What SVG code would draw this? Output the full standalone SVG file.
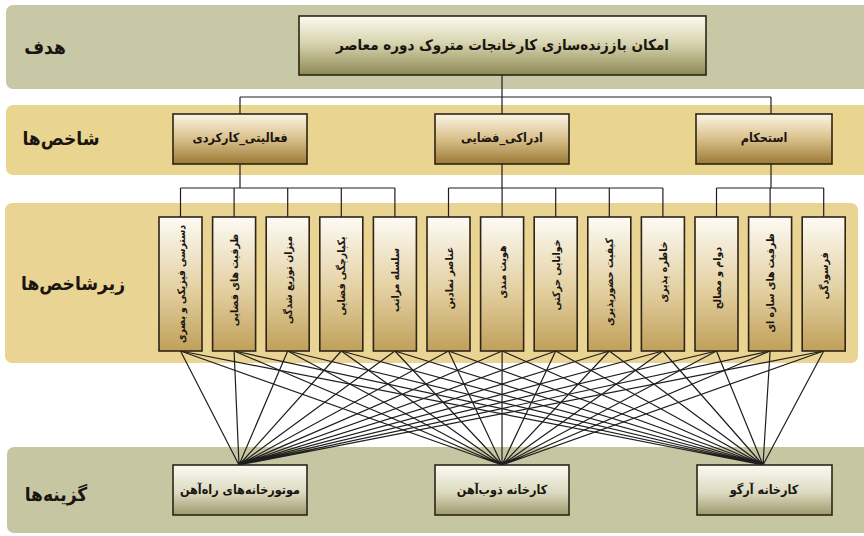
<svg xmlns="http://www.w3.org/2000/svg" width="864" height="536" viewBox="0 0 864 536">
<style>
text{font-family:"DejaVu Sans Condensed","DejaVu Sans",sans-serif;font-weight:bold;fill:#1a1510;text-anchor:middle;dominant-baseline:central}
.lbl{font-size:19px}
.top{font-size:15px}
.l2{font-size:12.5px}
.sub{font-size:10.5px}
.opt{font-size:12.5px}
.box{stroke:#2e2418;stroke-width:1.6}
.ln{stroke:#1e1e1e;stroke-width:1.2;fill:none}
</style>
<defs>
<linearGradient id="gOlive" x1="0" y1="0" x2="0" y2="1">
<stop offset="0" stop-color="#fbfaf0"/><stop offset="0.45" stop-color="#d8d5b0"/><stop offset="1" stop-color="#8f8955"/>
</linearGradient>
<linearGradient id="gGold" x1="0" y1="0" x2="0" y2="1">
<stop offset="0" stop-color="#fbf5e6"/><stop offset="0.5" stop-color="#d9c08a"/><stop offset="1" stop-color="#9c7a36"/>
</linearGradient>
<linearGradient id="gSub" x1="0" y1="0" x2="0" y2="1">
<stop offset="0" stop-color="#fdfbf5"/><stop offset="0.55" stop-color="#e3cfa0"/><stop offset="1" stop-color="#c0a05a"/>
</linearGradient>
<linearGradient id="gOpt" x1="0" y1="0" x2="0" y2="1">
<stop offset="0" stop-color="#fafaf2"/><stop offset="0.55" stop-color="#dcdac0"/><stop offset="1" stop-color="#9e9a6c"/>
</linearGradient>
</defs>
<rect width="864" height="536" fill="#ffffff"/>
<g id="bands">
<rect x="6" y="5" width="880" height="84" rx="7" fill="#c9c8a6"/>
<rect x="6" y="105" width="880" height="70" rx="7" fill="#ead590"/>
<rect x="5" y="203" width="853" height="160" rx="7" fill="#e9d493"/>
<rect x="7" y="447" width="880" height="86" rx="7" fill="#c7c6a3"/>
</g>
<g id="band-labels">
<text class="lbl" x="45" y="47">هدف</text>
<text class="lbl" x="61" y="138">شاخص‌ها</text>
<text class="lbl" x="73" y="283">زیرشاخص‌ها</text>
<text class="lbl" x="56" y="494">گزینه‌ها</text>
</g>
<g id="connectors">
<path class="ln" d="M502 75V97M240 97H771M240 97V114M502 97V114M771 97V114"/>
<path class="ln" d="M240 164V188M180.5 188H394.9M180.5 188V217M234.1 188V217M287.7 188V217M341.3 188V217M394.9 188V217"/>
<path class="ln" d="M502 164V188M448.5 188H662.9M448.5 188V217M502.1 188V217M555.7 188V217M609.3 188V217M662.9 188V217"/>
<path class="ln" d="M771 164V188M716.5 188H823.7M716.5 188V217M770.1 188V217M823.7 188V217"/>
<path class="ln" d="M180.5 351L239 465M234.1 351L239 465M287.7 351L239 465M341.3 351L239 465M394.9 351L239 465M448.5 351L239 465M502.1 351L239 465M555.7 351L239 465M609.3 351L239 465M662.9 351L239 465M716.5 351L239 465M770.1 351L239 465M823.7 351L239 465"/>
<path class="ln" d="M180.5 351L502 465M234.1 351L502 465M287.7 351L502 465M341.3 351L502 465M394.9 351L502 465M448.5 351L502 465M502.1 351L502 465M555.7 351L502 465M609.3 351L502 465M662.9 351L502 465M716.5 351L502 465M770.1 351L502 465M823.7 351L502 465"/>
<path class="ln" d="M180.5 351L763 465M234.1 351L763 465M287.7 351L763 465M341.3 351L763 465M394.9 351L763 465M448.5 351L763 465M502.1 351L763 465M555.7 351L763 465M609.3 351L763 465M662.9 351L763 465M716.5 351L763 465M770.1 351L763 465M823.7 351L763 465"/>
</g>
<g id="goal">
<rect class="box" x="299" y="16" width="407" height="59" fill="url(#gOlive)"/>
<text class="top" x="502.5" y="45">امکان باززنده‌سازی کارخانجات متروک دوره معاصر</text>
</g>
<g id="crit-1">
<rect class="box" x="173" y="114" width="134" height="50" fill="url(#gGold)"/>
<text class="l2" x="240" y="137">فعالیتی_کارکردی</text>
</g>
<g id="crit-2">
<rect class="box" x="435" y="114" width="134" height="50" fill="url(#gGold)"/>
<text class="l2" x="502" y="137">ادراکی_فضایی</text>
</g>
<g id="crit-3">
<rect class="box" x="696" y="114" width="136" height="50" fill="url(#gGold)"/>
<text class="l2" x="764" y="137">استحکام</text>
</g>
<g id="sub-1"><rect class="box" x="159" y="217" width="43" height="134" fill="url(#gSub)"/><text class="sub" transform="translate(180.5 284) rotate(-90)" textLength="118" lengthAdjust="spacingAndGlyphs">دسترسی فیزیکی و بصری</text></g>
<g id="sub-2"><rect class="box" x="212.6" y="217" width="43" height="134" fill="url(#gSub)"/><text class="sub" transform="translate(234.1 280) rotate(-90)">ظرفیت های فضایی</text></g>
<g id="sub-3"><rect class="box" x="266.2" y="217" width="43" height="134" fill="url(#gSub)"/><text class="sub" transform="translate(287.7 280) rotate(-90)">میزان توزیع شدگی</text></g>
<g id="sub-4"><rect class="box" x="319.8" y="217" width="43" height="134" fill="url(#gSub)"/><text class="sub" transform="translate(341.3 276) rotate(-90)">یکپارچگی فضایی</text></g>
<g id="sub-5"><rect class="box" x="373.4" y="217" width="43" height="134" fill="url(#gSub)"/><text class="sub" transform="translate(394.9 280) rotate(-90)">سلسله مراتب</text></g>
<g id="sub-6"><rect class="box" x="427" y="217" width="43" height="134" fill="url(#gSub)"/><text class="sub" transform="translate(448.5 278) rotate(-90)">عناصر نمادین</text></g>
<g id="sub-7"><rect class="box" x="480.6" y="217" width="43" height="134" fill="url(#gSub)"/><text class="sub" transform="translate(502.1 272) rotate(-90)">هویت مندی</text></g>
<g id="sub-8"><rect class="box" x="534.2" y="217" width="43" height="134" fill="url(#gSub)"/><text class="sub" transform="translate(555.7 275) rotate(-90)">خوانایی حرکتی</text></g>
<g id="sub-9"><rect class="box" x="587.8" y="217" width="43" height="134" fill="url(#gSub)"/><text class="sub" transform="translate(609.3 282) rotate(-90)">کیفیت حضورپذیری</text></g>
<g id="sub-10"><rect class="box" x="641.4" y="217" width="43" height="134" fill="url(#gSub)"/><text class="sub" transform="translate(662.9 272) rotate(-90)">خاطره پذیری</text></g>
<g id="sub-11"><rect class="box" x="695" y="217" width="43" height="134" fill="url(#gSub)"/><text class="sub" transform="translate(716.5 278) rotate(-90)">دوام و مصالح</text></g>
<g id="sub-12"><rect class="box" x="748.6" y="217" width="43" height="134" fill="url(#gSub)"/><text class="sub" transform="translate(770.1 283) rotate(-90)">ظرفیت های سازه ای</text></g>
<g id="sub-13"><rect class="box" x="802.2" y="217" width="43" height="134" fill="url(#gSub)"/><text class="sub" transform="translate(823.7 276) rotate(-90)">فرسودگی</text></g>
<g id="opt-1">
<rect class="box" x="173" y="465" width="134" height="50" fill="url(#gOpt)"/>
<text class="opt" x="240" y="489">موتورخانه‌های راه‌آهن</text>
</g>
<g id="opt-2">
<rect class="box" x="435" y="465" width="134" height="50" fill="url(#gOpt)"/>
<text class="opt" x="502" y="489">کارخانه ذوب‌آهن</text>
</g>
<g id="opt-3">
<rect class="box" x="697" y="465" width="135" height="50" fill="url(#gOpt)"/>
<text class="opt" x="764" y="489">کارخانه آرگو</text>
</g>
</svg>
